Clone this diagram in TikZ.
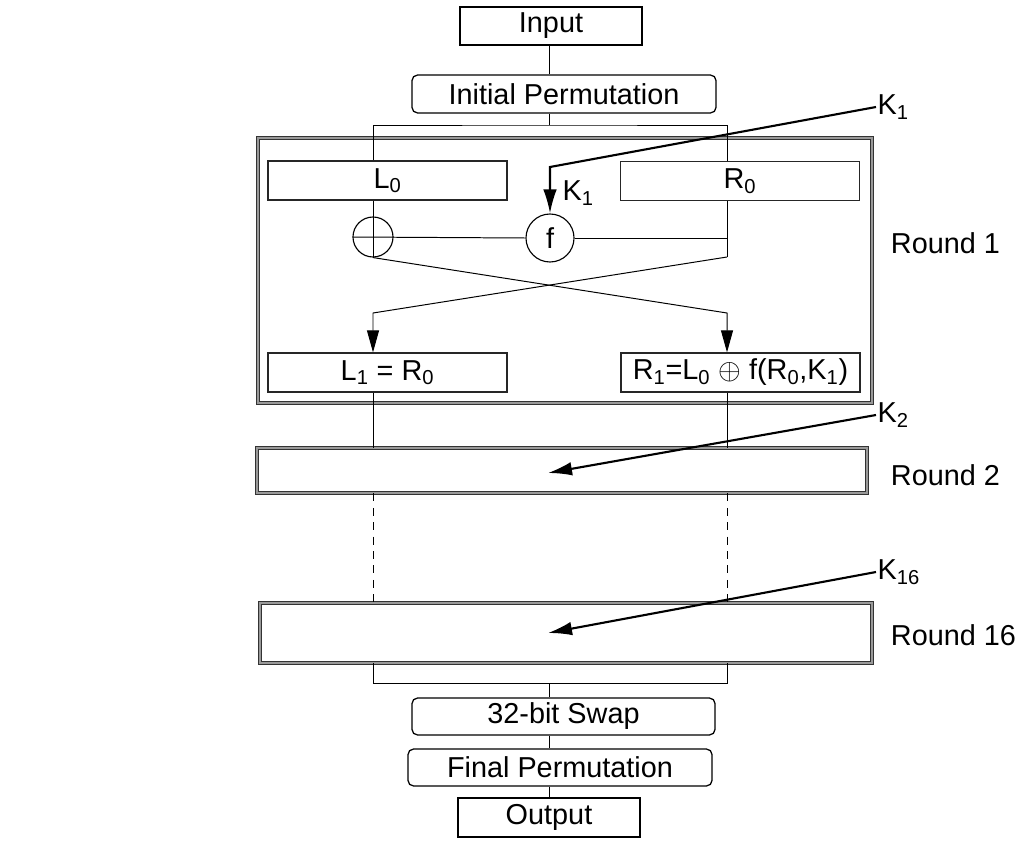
\documentclass[tikz,border=0pt]{standalone}
\usepackage{fontspec}
\setmainfont{Liberation Sans}
\usetikzlibrary{arrows.meta,positioning,calc}

\begin{document}
\begin{tikzpicture}[
    x=0.025cm, y=-0.025cm,
    every node/.style={font=\fontsize{20.5}{24}\selectfont},
    box/.style={rectangle, draw, line width=0.9pt, inner sep=0pt, minimum height=0.95cm},
    rbox/.style={box, rounded corners=4pt},
    half/.style={box, draw=black!85, minimum width=5.975cm, minimum height=0.975cm},
    roundbox/.style={rectangle, draw=black!80, double=black!40, double distance=1.8pt,
                     line width=0.6pt, inner sep=0pt},
    op/.style={circle, draw, line width=0.8pt, inner sep=0pt},
    wire/.style={line width=0.7pt},
    arr/.style={wire, -{Triangle[length=5.5mm, width=3mm]}},
    keyarr/.style={line width=1.5pt, -{Latex[length=6mm, width=3.4mm]}},
    keylabel/.style={anchor=west, inner sep=1pt},
    roundlabel/.style={anchor=west},
]
    \useasboundingbox (0,0) rectangle (1016,840);

    % Guide coordinates for the two halves
    \coordinate (lx) at (373,0);
    \coordinate (rx) at (727,0);
    \coordinate (split) at (549,125);
    \coordinate (join) at (549,683);

    % Input and initial permutation
    \node[box, minimum width=4.55cm] (input) at (551,26) {Input};
    \node[rbox, minimum width=7.6cm] (initp) at (564,94) {Initial Permutation};

    % Round 1
    \node[roundbox, minimum width=15.35cm, minimum height=6.625cm] (round1) at (565,270.5) {};
    \node[half] (L0) at (387.5,180.5) {L\textsubscript{0}};
    \node[half] (R0) at (740,181) {R\textsubscript{0}};
    \node[op, minimum size=1cm] (xor) at (373,237) {};
    \node[op, minimum size=1.2cm] (f) at (550,238) {f};
    \node[half] (L1) at (387.5,372.5) {L\textsubscript{1} = R\textsubscript{0}};
    \node[half] (R1) at (740.5,372.5) {R\textsubscript{1}=L\textsubscript{0} $\oplus$ f(R\textsubscript{0},K\textsubscript{1})};
    \coordinate (rbot) at (727,257);
    \coordinate (xl) at (373,313);
    \coordinate (xr) at (727,313);
    \coordinate (k1bend) at (550,167);

    % Rounds 2 and 16
    \node[roundbox, minimum width=15.25cm, minimum height=1.125cm] (round2) at (562,470.5) {};
    \node[roundbox, minimum width=15.3cm, minimum height=1.5cm] (round16) at (566,633) {};
    \coordinate (k2tip) at (548,473);
    \coordinate (k16tip) at (548,633);

    % Swap, final permutation and output
    \node[rbox, minimum width=7.575cm, minimum height=0.925cm] (swap) at (563.5,716.5) {32-bit Swap};
    \node[rbox, minimum width=7.6cm, minimum height=0.925cm] (finalp) at (560,767.5) {Final Permutation};
    \node[box, minimum width=4.55cm, minimum height=0.975cm] (output) at (549,817.5) {Output};

    % Key labels and round labels
    \node[keylabel] (k1) at (876,107) {K\textsubscript{1}};
    \node[keylabel] (k1in) at (561,193) {K\textsubscript{1}};
    \node[keylabel] (k2) at (876,415) {K\textsubscript{2}};
    \node[keylabel] (k16) at (876,572) {K\textsubscript{16}};
    \node[roundlabel] (r1lab) at (886,243) {Round 1};
    \node[roundlabel] (r2lab) at (886,475) {Round 2};
    \node[roundlabel] (r16lab) at (886,635) {Round 16};

    % Wires
    \draw[wire] (input.south -| split) -- (initp.north -| split);
    \draw[wire] (initp.south -| split) -- (split);
    \draw[wire] (L0.north -| lx) |- (split) -| (R0.north -| rx);
    \draw[wire] (L0.south -| lx) -- (xor.south);
    \draw[wire] (xor.west) -- (f.west);
    \draw[wire] (f.east) -- (f.east -| rx);
    \draw[wire] (R0.south -| rx) -- (rbot);
    \draw[arr] (xor.south) -- (xr) -- (R1.north -| rx);
    \draw[arr] (rbot) -- (xl) -- (L1.north -| lx);
    \draw[wire] (L1.south -| lx) -- (round2.north -| lx);
    \draw[wire] (R1.south -| rx) -- (round2.north -| rx);
    \draw[wire, dash pattern=on 2mm off 1.6mm] (round2.south -| lx) -- (round16.north -| lx);
    \draw[wire, dash pattern=on 2mm off 1.6mm] (round2.south -| rx) -- (round16.north -| rx);
    \draw[wire] (round16.south -| lx) |- (join) -| (round16.south -| rx);
    \draw[wire] (join) -- (swap.north -| join);
    \draw[wire] (swap.south -| join) -- (finalp.north -| join);
    \draw[wire] (finalp.south -| join) -- (output.north -| join);

    % Subkeys
    \draw[keyarr] (k1.west) -- (k1bend) -- (f.north);
    \draw[keyarr] (k2.west) -- (k2tip);
    \draw[keyarr] (k16.west) -- (k16tip);
\end{tikzpicture}
\end{document}
